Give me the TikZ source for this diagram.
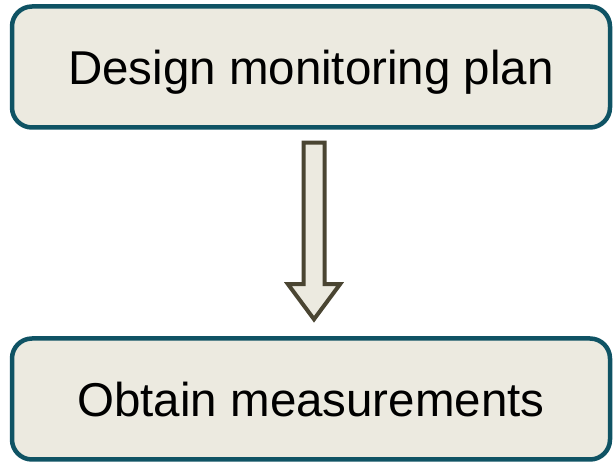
\documentclass[tikz,border=0pt]{standalone}
\usepackage{fontspec}
\setmainfont{Liberation Sans}
\definecolor{boxfill}{HTML}{ECEAE0}
\definecolor{boxline}{HTML}{0F5364}
\definecolor{arrline}{HTML}{4A4532}
\begin{document}
\begin{tikzpicture}[x=1pt,y=1pt,
  stepbox/.style={draw=boxline, line width=4.5pt, fill=boxfill, rounded corners=20pt,
    minimum width=598pt, minimum height=121pt, inner sep=0pt, text depth=0pt,
    font=\fontsize{47.5}{56}\selectfont},
  bigarrow/.style={draw=arrline, line width=4pt, fill=boxfill, line join=miter}]
\useasboundingbox (0,0) rectangle (613,463);
\node[stepbox] (top) at (311,396) {Design monitoring plan};
\node[stepbox] (bot) at (311,64) {Obtain measurements};
\coordinate (a1) at ([xshift=-7.5pt,yshift=-13pt]top.south);
\coordinate (a2) at ([xshift=13.5pt,yshift=-13pt]top.south);
\coordinate (h1) at ([xshift=13.5pt,yshift=52pt]bot.north);
\coordinate (h2) at ([xshift=29pt,yshift=52pt]bot.north);
\coordinate (tip) at ([xshift=3pt,yshift=17pt]bot.north);
\coordinate (h3) at ([xshift=-23pt,yshift=52pt]bot.north);
\coordinate (h4) at ([xshift=-7.5pt,yshift=52pt]bot.north);
\draw[bigarrow] (a1) -- (a2) -- (h1) -- (h2) -- (tip) -- (h3) -- (h4) -- cycle;
\end{tikzpicture}
\end{document}
